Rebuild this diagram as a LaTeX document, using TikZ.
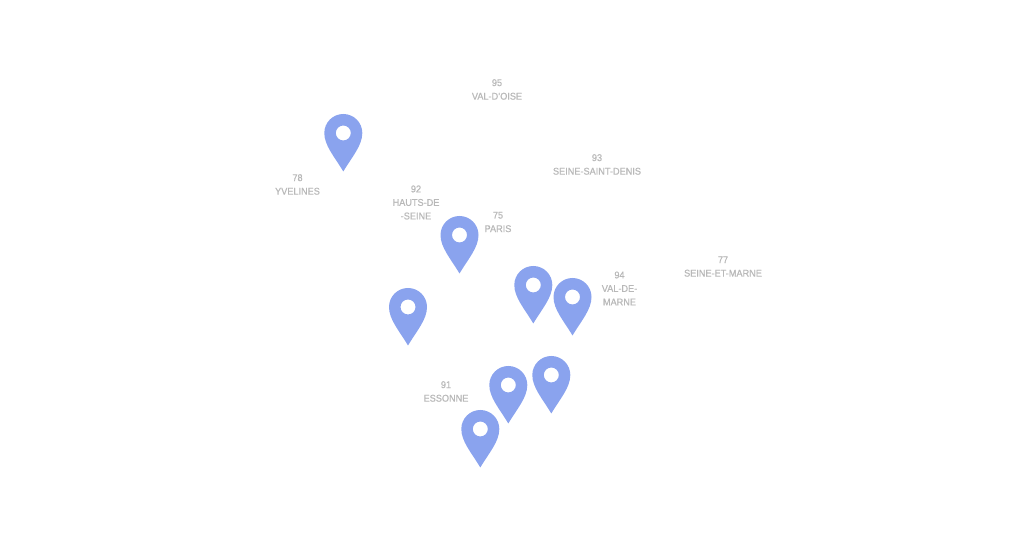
\documentclass[tikz,border=0pt]{standalone}
\usepackage{fontspec}
\setmainfont[FakeStretch=0.93, FakeBold=0.8]{Liberation Sans}
\definecolor{pinblue}{HTML}{8AA3EE}
\definecolor{labelgray}{HTML}{B8B8B8}
\tikzset{
    deptlabel/.style={text=labelgray, font=\fontsize{5.6}{7.7}\selectfont, align=center, inner sep=0pt},
    mappin/.pic={
        \fill[pinblue, even odd rule] (0,0) .. controls (-9,15) and (-19,26) .. (-19,38.5)
            arc[start angle=180, end angle=0, radius=19]
            .. controls (19,26) and (9,15) .. (0,0)
            (0,38.5) circle[radius=7.5];
    }
}
\begin{document}
\begin{tikzpicture}[x=0.02cm, y=0.02cm]
\useasboundingbox (0,0) rectangle (1024,546);

% Pins
\pic (pinA) at (343.3,374.5) {mappin};
\pic (pinB) at (459.5,272.5) {mappin};
\pic (pinC) at (408,200.5) {mappin};
\pic (pinD) at (533.3,222.5) {mappin};
\pic (pinE) at (572.5,210.5) {mappin};
\pic (pinF) at (551.3,132.5) {mappin};
\pic (pinG) at (508.3,122.5) {mappin};
\pic (pinH) at (480.3,78.5) {mappin};

% Labels
\node[deptlabel] (valdoise) at (497,456.5) {95\\VAL-D'OISE};
\node[deptlabel] (seinestdenis) at (597,381.5) {93\\SEINE-SAINT-DENIS};
\node[deptlabel] (yvelines) at (297.5,361.5) {78\\YVELINES};
\node[deptlabel] (hautsdeseine) at (416,343.5) {92\\HAUTS-DE\\-SEINE};
\node[deptlabel] (paris) at (498,324) {75\\PARIS};
\node[deptlabel] (seineetmarne) at (723,279.5) {77\\SEINE-ET-MARNE};
\node[deptlabel] (valdemarne) at (619.5,257.5) {94\\VAL-DE-\\MARNE};
\node[deptlabel] (essonne) at (446,154.5) {91\\ESSONNE};

\end{tikzpicture}
\end{document}
